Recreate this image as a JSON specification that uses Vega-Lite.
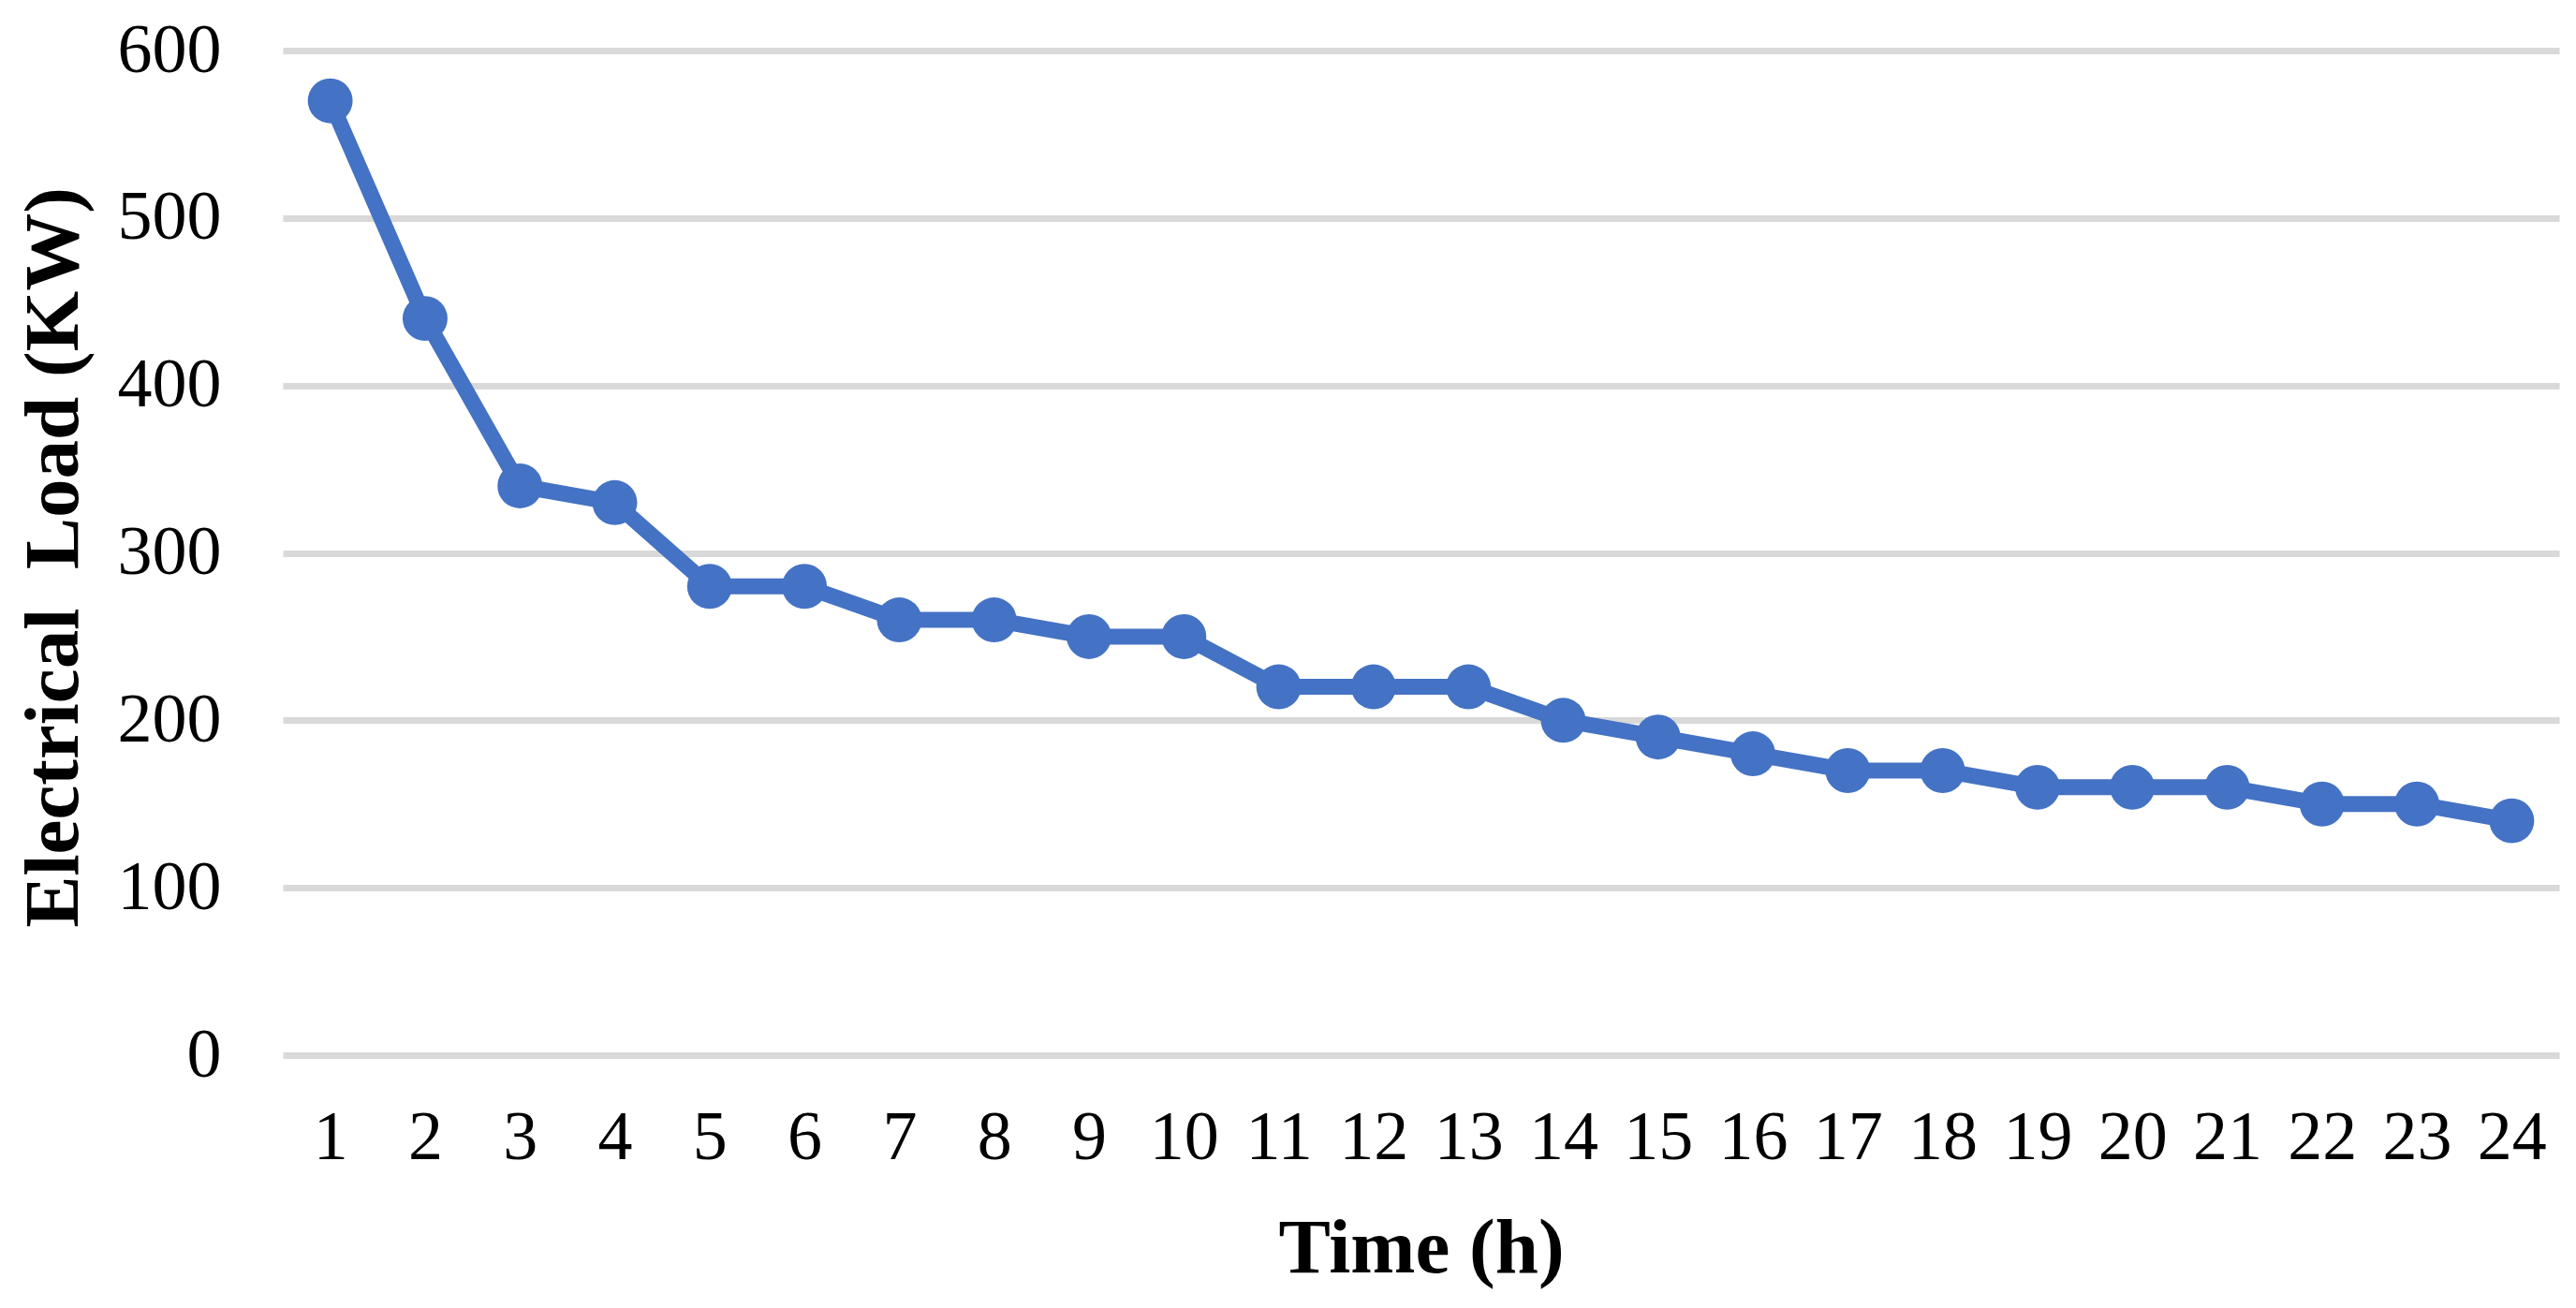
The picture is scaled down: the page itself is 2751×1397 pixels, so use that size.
{
  "$schema": "https://vega.github.io/schema/vega-lite/v6.json",
  "autosize": "none",
  "width": 2431,
  "height": 1073,
  "padding": {"left": 302, "top": 54, "right": 18, "bottom": 270},
  "background": "white",
  "config": {"view": {"stroke": null}},
  "data": {"values": [
    {"hour": 1, "load": 570}, {"hour": 2, "load": 440}, {"hour": 3, "load": 340}, {"hour": 4, "load": 330},
    {"hour": 5, "load": 280}, {"hour": 6, "load": 280}, {"hour": 7, "load": 260}, {"hour": 8, "load": 260},
    {"hour": 9, "load": 250}, {"hour": 10, "load": 250}, {"hour": 11, "load": 220}, {"hour": 12, "load": 220},
    {"hour": 13, "load": 220}, {"hour": 14, "load": 200}, {"hour": 15, "load": 190}, {"hour": 16, "load": 180},
    {"hour": 17, "load": 170}, {"hour": 18, "load": 170}, {"hour": 19, "load": 160}, {"hour": 20, "load": 160},
    {"hour": 21, "load": 160}, {"hour": 22, "load": 150}, {"hour": 23, "load": 150}, {"hour": 24, "load": 140}
  ]},
  "encoding": {
    "x": {
      "field": "hour", "type": "ordinal",
      "scale": {"type": "point", "padding": 0.5},
      "axis": {
        "title": "Time (h)", "labelAngle": 0, "ticks": false, "domain": false, "grid": false,
        "labelFont": "Liberation Serif", "labelFontSize": 74, "labelColor": "black", "labelPadding": 52,
        "titleFont": "Liberation Serif", "titleFontSize": 83, "titleFontWeight": "bold", "titleColor": "black",
        "titleBaseline": "alphabetic", "titleY": 231
      }
    },
    "y": {
      "field": "load", "type": "quantitative",
      "scale": {"domain": [0, 600], "nice": false},
      "axis": {
        "title": "Electrical\u00a0 Load (KW)", "values": [0, 100, 200, 300, 400, 500, 600],
        "ticks": false, "domain": false, "grid": true, "gridColor": "#D9D9D9", "gridWidth": 7,
        "labelFont": "Liberation Serif", "labelFontSize": 74, "labelColor": "black", "labelPadding": 66,
        "titleFont": "Liberation Serif", "titleFontSize": 83, "titleFontWeight": "bold", "titleColor": "black",
        "titleBaseline": "alphabetic", "titleX": -220, "titleY": 541, "titleAngle": -90, "titleAlign": "center"
      }
    }
  },
  "layer": [
    {"mark": {"type": "line", "color": "#4472C4", "strokeWidth": 17}},
    {"mark": {"type": "point", "filled": true, "shape": "circle", "color": "#4472C4", "opacity": 1, "size": 2300}}
  ]
}
